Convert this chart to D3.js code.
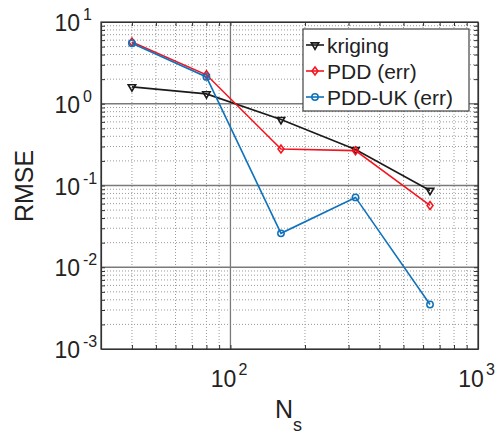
<!DOCTYPE html>
<html><head><meta charset="utf-8">
<script src="https://cdn.jsdelivr.net/npm/d3@7/dist/d3.min.js"></script>
<style>html,body{margin:0;padding:0;background:#fff;}svg{display:block;font-family:"Liberation Sans",Arial,sans-serif;}</style>
</head><body>
<script>
const Ns = [40, 80, 160, 320, 640];
const kriging = [1.61, 1.32, 0.64, 0.275, 0.087];
const pdd = [5.7, 2.26, 0.28, 0.267, 0.057];
const pddUK = [5.5, 2.13, 0.026, 0.0715, 0.0035];
const seriesNames = ["kriging", "PDD (err)", "PDD-UK (err)"];
const seriesColors = ["#1a1a1a", "#f5141e", "#0f72bd"];
const xTickExps = [2, 3];
const yTickExps = [1, 0, -1, -2, -3];

const W = 498, H = 435;
const m = {l: 101, r: 20, t: 22, b: 86};
const svg = d3.select("body").append("svg").attr("width", W).attr("height", H);
const x = d3.scaleLog().domain([30, 1000]).range([m.l, W - m.r]);
const y = d3.scaleLog().domain([1e-3, 10]).range([H - m.b, m.t]);
const x0 = m.l, x1 = W - m.r, y0 = H - m.b, y1 = m.t;

const g = svg.append("g");
const xMinor = [];
for (let e = 1; e <= 2; e++) for (let k = 2; k <= 9; k++) { const v = k * Math.pow(10, e); if (v > 30 && v < 1000) xMinor.push(v); }
const yMinor = [];
for (let e = -3; e <= 0; e++) for (let k = 2; k <= 9; k++) yMinor.push(k * Math.pow(10, e));
g.selectAll(".xm").data(xMinor).enter().append("line")
  .attr("x1", d => x(d)).attr("x2", d => x(d)).attr("y1", y0).attr("y2", y1)
  .attr("stroke", "#9a9a9a").attr("stroke-width", 1).attr("stroke-dasharray", "1,2");
g.selectAll(".ym").data(yMinor).enter().append("line")
  .attr("y1", d => y(d)).attr("y2", d => y(d)).attr("x1", x0).attr("x2", x1)
  .attr("stroke", "#9a9a9a").attr("stroke-width", 1).attr("stroke-dasharray", "1,2");
g.selectAll(".xM").data([100]).enter().append("line")
  .attr("x1", d => x(d)).attr("x2", d => x(d)).attr("y1", y0).attr("y2", y1)
  .attr("stroke", "#7a7a7a").attr("stroke-width", 1.3);
g.selectAll(".yM").data([1, 0.1, 0.01]).enter().append("line")
  .attr("y1", d => y(d)).attr("y2", d => y(d)).attr("x1", x0).attr("x2", x1)
  .attr("stroke", "#7a7a7a").attr("stroke-width", 1.3);

const axB = d3.axisBottom(x).tickValues(xMinor.concat([100])).tickSizeInner(-4).tickSizeOuter(0).tickFormat("");
const axT = d3.axisTop(x).tickValues(xMinor.concat([100])).tickSizeInner(-4).tickSizeOuter(0).tickFormat("");
const axL = d3.axisLeft(y).tickValues(yMinor.concat([1, 0.1, 0.01])).tickSizeInner(-4).tickSizeOuter(0).tickFormat("");
const axR = d3.axisRight(y).tickValues(yMinor.concat([1, 0.1, 0.01])).tickSizeInner(-4).tickSizeOuter(0).tickFormat("");
[[axB, `translate(0,${y0})`], [axT, `translate(0,${y1})`], [axL, `translate(${x0},0)`], [axR, `translate(${x1},0)`]].forEach(([a, t]) => {
  const gg = svg.append("g").attr("transform", t).call(a);
  gg.selectAll("path").attr("stroke", "#333").attr("stroke-width", 1.2);
  gg.selectAll("line").attr("stroke", "#333");
});
svg.append("rect").attr("x", x0).attr("y", y1).attr("width", x1 - x0).attr("height", y0 - y1)
  .attr("fill", "none").attr("stroke", "#333").attr("stroke-width", 1.2);

const tl = svg.append("g").attr("fill", "#222");
xTickExps.forEach(e => {
  const cx = x(Math.pow(10, e));
  tl.append("text").attr("x", cx - 7).attr("y", 387).attr("text-anchor", "middle").attr("font-size", 23).text("10");
  tl.append("text").attr("x", cx + 8).attr("y", 375).attr("font-size", 16).text(String(e));
});
yTickExps.forEach(e => {
  const cy = y(Math.pow(10, e));
  const ex = e < 0 ? "-" + Math.abs(e) : String(e);
  tl.append("text").attr("x", 80).attr("y", cy + 9).attr("text-anchor", "end").attr("font-size", 23).text("10");
  tl.append("text").attr("x", 83).attr("y", cy - 2).attr("font-size", 16).text(ex);
});

const xl = svg.append("text").attr("x", 275).attr("y", 418).attr("font-size", 25).attr("fill", "#222");
xl.append("tspan").text("N");
xl.append("tspan").attr("font-size", 18).attr("dy", 13).text("s");
svg.append("text").attr("transform", "translate(33,186) rotate(-90)").attr("text-anchor", "middle")
  .attr("font-size", 25).attr("fill", "#222").text("RMSE");

const data = [kriging, pdd, pddUK];
const line = d3.line().x((d, i) => x(Ns[i])).y(d => y(d));
const triangle = d3.symbol().type(d3.symbolTriangle).size(24);
function marker(sel, k, cx, cy, col) {
  if (k === 0) {
    sel.append("path").attr("d", triangle()).attr("transform", `translate(${cx},${cy}) rotate(180)`)
      .attr("fill", "none").attr("stroke", col).attr("stroke-width", 1.6);
  } else if (k === 1) {
    const s = 4;
    sel.append("path").attr("d", `M${cx},${cy - s}L${cx + s * 0.75},${cy}L${cx},${cy + s}L${cx - s * 0.75},${cy}Z`)
      .attr("fill", "none").attr("stroke", col).attr("stroke-width", 1.5);
  } else {
    sel.append("circle").attr("cx", cx).attr("cy", cy).attr("r", 3.2)
      .attr("fill", "none").attr("stroke", col).attr("stroke-width", 1.5);
  }
}
data.forEach((vals, k) => {
  const gs = svg.append("g");
  gs.append("path").datum(vals).attr("d", line).attr("fill", "none")
    .attr("stroke", seriesColors[k]).attr("stroke-width", 1.6);
  vals.forEach((v, i) => marker(gs, k, x(Ns[i]), y(v), seriesColors[k]));
});

const lg = svg.append("g");
lg.append("rect").attr("x", 303).attr("y", 29).attr("width", 166).attr("height", 82)
  .attr("fill", "#fff").attr("stroke", "#444").attr("stroke-width", 1.2);
const rows = [45, 71, 97];
seriesNames.forEach((n, k) => {
  const cy = rows[k];
  lg.append("line").attr("x1", 306).attr("x2", 324).attr("y1", cy).attr("y2", cy)
    .attr("stroke", seriesColors[k]).attr("stroke-width", 1.6);
  marker(lg, k, 315, cy, seriesColors[k]);
  lg.append("text").attr("x", 327).attr("y", cy + 7.5).attr("font-size", 21).attr("fill", "#222").text(n);
});
</script>
</body></html>
